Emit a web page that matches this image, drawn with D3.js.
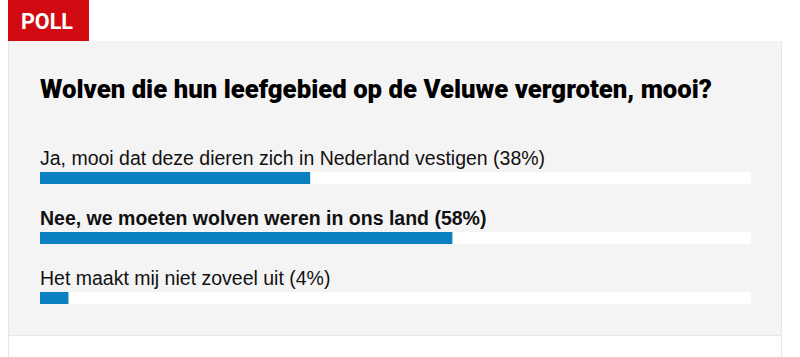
<!DOCTYPE html>
<html><head><meta charset="utf-8">
<script src="https://cdn.jsdelivr.net/npm/d3@7"></script>
<style>html,body{margin:0;padding:0;background:#fff;}svg{display:block;}</style>
</head><body>
<svg id="c" width="800" height="357"></svg>
<script>
const title = "Wolven die hun leefgebied op de Veluwe vergroten, mooi?";
const answers = [
  "Ja, mooi dat deze dieren zich in Nederland vestigen",
  "Nee, we moeten wolven weren in ons land",
  "Het maakt mij niet zoveel uit"
];
const percents = [38, 58, 4];
const winnerIndex = 1;

const svg = d3.select("#c");
const W = 800, H = 357;
const panel = {x0: 8.5, x1: 781.5, y0: 41, y1: 335.5};

svg.append("rect").attr("x", panel.x0).attr("y", panel.y0).attr("width", panel.x1 - panel.x0).attr("height", panel.y1 - panel.y0)
  .attr("fill", "#f4f4f4");
svg.append("line").attr("x1", panel.x0).attr("x2", panel.x0).attr("y1", panel.y0).attr("y2", H).attr("stroke", "#ece4df");
svg.append("line").attr("x1", panel.x1).attr("x2", panel.x1).attr("y1", panel.y0).attr("y2", H).attr("stroke", "#ece4df");
svg.append("line").attr("x1", panel.x0).attr("x2", panel.x1).attr("y1", panel.y1).attr("y2", panel.y1).attr("stroke", "#ece4df");

// POLL badge
svg.append("rect").attr("x", 8).attr("y", 0).attr("width", 81).attr("height", 41).attr("fill", "#d10a11");
svg.append("text").attr("x", 21).attr("y", 29).text("POLL")
  .attr("font-family", "Roboto, 'DejaVu Sans', sans-serif").attr("font-weight", 700).attr("font-size", 22)
  .attr("fill", "#fff").attr("textLength", 52).attr("lengthAdjust", "spacingAndGlyphs");

// Title
svg.append("text").attr("x", 40).attr("y", 98).text(title)
  .attr("font-family", "Roboto, 'Liberation Sans', sans-serif").attr("font-weight", 900).attr("font-size", 25)
  .attr("fill", "#000").attr("textLength", 672).attr("lengthAdjust", "spacingAndGlyphs");

const x = d3.scaleLinear().domain([0, 100]).range([40, 751]);
const y = d3.scaleBand().domain(d3.range(answers.length)).range([142, 322]).paddingInner(0);

const g = svg.append("g").selectAll("g").data(answers).join("g")
  .attr("transform", (d, i) => `translate(0,${y(i)})`);

g.append("text").attr("x", x(0)).attr("y", 23)
  .text((d, i) => `${d} (${percents[i]}%)`)
  .attr("font-family", "'Liberation Sans', Arial, sans-serif").attr("font-size", 19.5)
  .attr("font-weight", (d, i) => i === winnerIndex ? 700 : 400)
  .attr("fill", "#111");

g.append("rect").attr("x", x(0)).attr("y", 30).attr("width", x(100) - x(0)).attr("height", 12).attr("fill", "#fff");
g.append("rect").attr("x", x(0)).attr("y", 30).attr("width", (d, i) => x(percents[i]) - x(0)).attr("height", 12).attr("fill", "#0a80c0");
</script>
</body></html>
